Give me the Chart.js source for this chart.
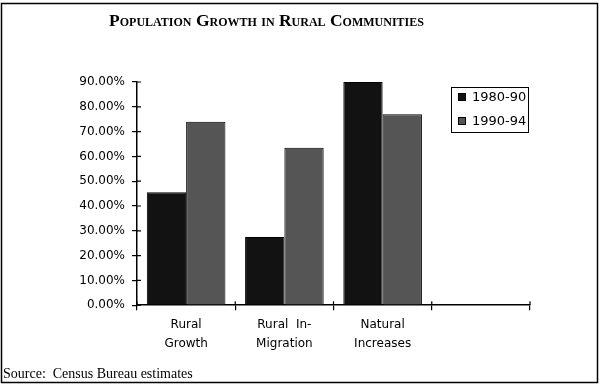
<!DOCTYPE html>
<html>
<head>
<meta charset="utf-8">
<script src="https://cdn.jsdelivr.net/npm/chart.js@4.4.1/dist/chart.umd.min.js"></script>
<style>
  html, body { margin: 0; padding: 0; background: #fff; }
  #wrap { width: 600px; height: 387px; position: relative; }
</style>
</head>
<body>
<div id="wrap"><canvas id="chart" width="600" height="387"></canvas></div>
<script>
// data
const categories = [["Rural", "Growth"], ["Rural  In-", "Migration"], ["Natural", "Increases"], ""];
const seriesNames = ["1980-90", "1990-94"];
const values8090 = [45.5, 27.5, 90, null];
const values9094 = [74, 63.5, 77, null];
const yTicks = [0, 10, 20, 30, 40, 50, 60, 70, 80, 90];

const barColors = ["#121212", "#555555"];
const sansFont = "'DejaVu Sans', sans-serif";

// white page + outer frame
const framePlugin = {
  id: "frame",
  beforeDraw(chart) {
    const ctx = chart.ctx;
    ctx.save();
    ctx.fillStyle = "#fff";
    ctx.fillRect(0, 0, chart.width, chart.height);
    ctx.strokeStyle = "#000";
    ctx.lineWidth = 1.5;
    ctx.strokeRect(1.5, 3.5, chart.width - 4, chart.height - 8);
    ctx.restore();
  }
};

// small ticks on the inner side of both axes (the picture has "+" ticks)
const innerTicks = {
  id: "innerTicks",
  afterDatasetsDraw(chart) {
    const ctx = chart.ctx;
    const x = chart.scales.x, y = chart.scales.y;
    ctx.save();
    ctx.strokeStyle = "#000";
    ctx.lineWidth = 1.2;
    ctx.beginPath();
    yTicks.forEach(v => {
      const py = y.getPixelForValue(v);
      ctx.moveTo(x.left, py);
      ctx.lineTo(x.left + 4, py);
    });
    const n = categories.length;
    for (let i = 0; i <= n; i++) {
      const px = x.left + i * x.width / n;
      ctx.moveTo(px, y.bottom);
      ctx.lineTo(px, y.bottom - 4);
    }
    ctx.stroke();
    ctx.restore();
  }
};

// boxed legend sitting in the empty fourth slot
const boxLegend = {
  id: "boxLegend",
  afterDraw(chart) {
    const ctx = chart.ctx;
    const area = chart.chartArea;
    const w = 77, h = 45;
    const left = area.right - 2 - w, top = area.top + 5;
    ctx.save();
    ctx.fillStyle = "#fff";
    ctx.fillRect(left, top, w, h);
    ctx.strokeStyle = "#000";
    ctx.lineWidth = 1;
    ctx.strokeRect(left + 0.5, top + 0.5, w, h);
    ctx.font = "13px " + sansFont;
    ctx.textBaseline = "middle";
    chart.data.datasets.forEach((ds, i) => {
      const cy = top + 10 + i * 24;
      ctx.fillStyle = ds.backgroundColor;
      ctx.fillRect(left + 7, cy - 4, 8, 8);
      ctx.strokeRect(left + 7.5, cy - 3.5, 7, 7);
      ctx.fillStyle = "#000";
      ctx.fillText(ds.label, left + 21, cy + 1);
    });
    ctx.restore();
  }
};

new Chart(document.getElementById("chart"), {
  type: "bar",
  data: {
    labels: categories,
    datasets: [
      { label: seriesNames[0], data: values8090, backgroundColor: barColors[0], borderColor: "#000", borderWidth: 1 },
      { label: seriesNames[1], data: values9094, backgroundColor: barColors[1], borderColor: "#000", borderWidth: 1 }
    ]
  },
  options: {
    responsive: false,
    animation: false,
    layout: { padding: { left: 3, right: 70, top: 11, bottom: 5 } },
    datasets: { bar: { categoryPercentage: 0.8, barPercentage: 1.0 } },
    plugins: {
      legend: { display: false },
      tooltip: { enabled: false },
      title: {
        display: true,
        text: "Population Growth in Rural Communities",
        color: "#000",
        font: { family: "'Liberation Serif', serif", size: 17.5, weight: "small-caps bold", lineHeight: 1.2 },
        padding: { top: 0, bottom: 50 }
      },
      subtitle: {
        display: true,
        position: "bottom",
        align: "start",
        text: "Source:  Census Bureau estimates",
        color: "#000",
        font: { family: "'Liberation Serif', serif", size: 14, lineHeight: 1.1 },
        padding: { top: 8, bottom: 0 }
      }
    },
    scales: {
      x: {
        grid: { display: true, drawOnChartArea: false, tickLength: 5, color: "#000", lineWidth: 1.2 },
        border: { display: true, color: "#000", width: 1.5 },
        ticks: { color: "#000", padding: 5, maxRotation: 0, font: { family: sansFont, size: 12, lineHeight: 1.6 } }
      },
      y: {
        min: 0,
        max: 90,
        afterFit(scale) { scale.width = 134; },
        afterBuildTicks(scale) { scale.ticks = yTicks.map(v => ({ value: v })); },
        grid: { display: true, drawOnChartArea: false, tickLength: 5, color: "#000", lineWidth: 1.2 },
        border: { display: true, color: "#000", width: 1.5 },
        ticks: {
          color: "#000",
          padding: 7,
          font: { family: sansFont, size: 12 },
          callback: v => v.toFixed(2) + "%"
        }
      }
    }
  },
  plugins: [framePlugin, innerTicks, boxLegend]
});
</script>
</body>
</html>
